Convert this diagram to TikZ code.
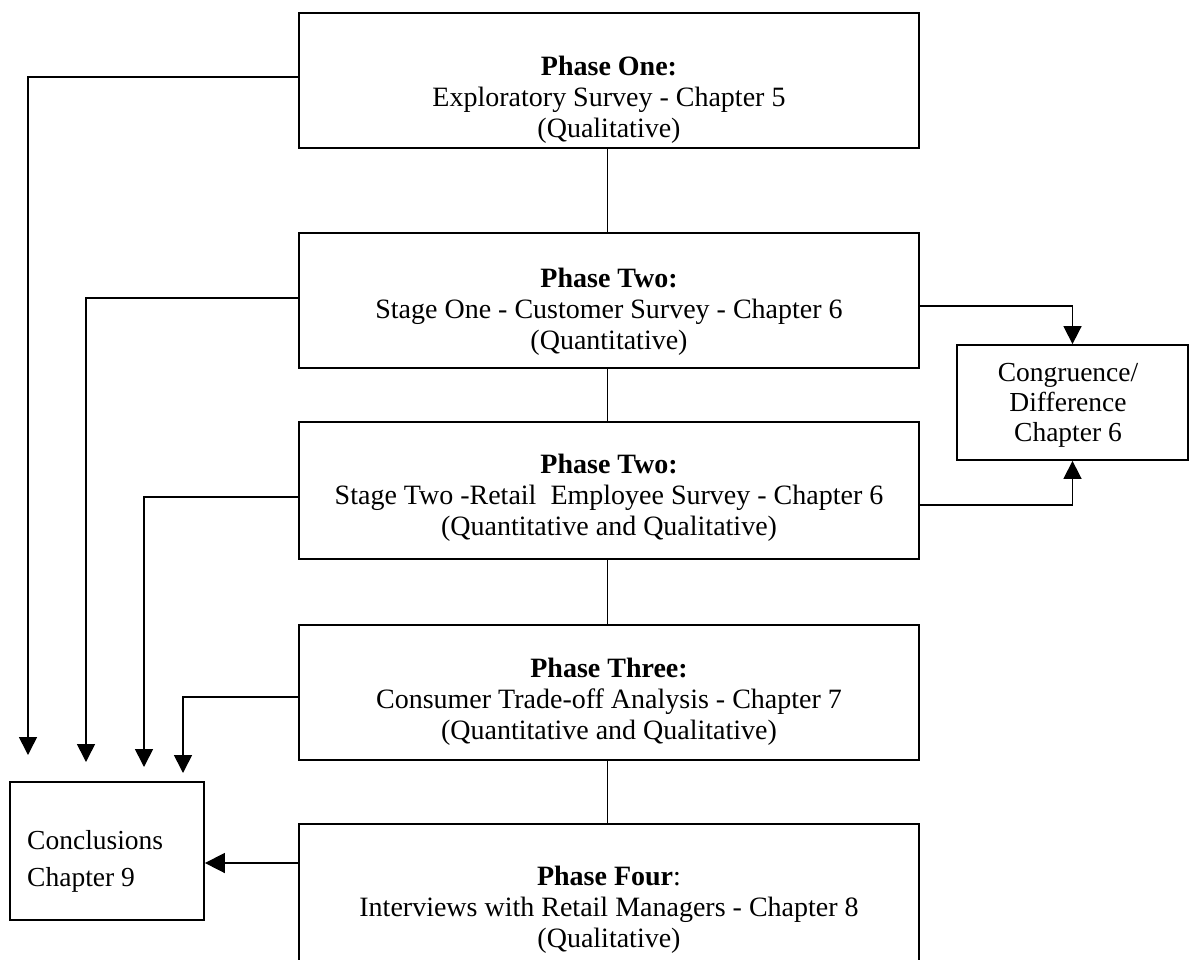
\documentclass[tikz,border=0pt]{standalone}
\usepackage{fontspec}
\setmainfont{Liberation Serif}
\usetikzlibrary{arrows.meta}
\begin{document}
\begin{tikzpicture}[x=1pt,y=-1pt,
  box/.style={draw,line width=1.8pt,rectangle,inner sep=0pt},
  phasebox/.style={box,minimum width=620pt},
  body/.style={align=center,inner sep=0pt,font=\fontsize{28pt}{31pt}\selectfont},
  conn/.style={line width=1.6pt,-{Triangle[width=18pt,length=18pt]}},
  link/.style={line width=1pt}]
\clip (0,0) rectangle (1191,959);

% phase boxes, stacked in the middle column
\node[phasebox,minimum height=135pt] (p1) at (609,80.5) {};
\node[phasebox,minimum height=135pt] (p2) at (609,300.5) {};
\node[phasebox,minimum height=137pt] (p3) at (609,490.5) {};
\node[phasebox,minimum height=135pt] (p4) at (609,692.5) {};
\node[phasebox,minimum height=176pt] (p5) at (609,912) {};

% side boxes
\node[box,minimum width=231pt,minimum height=115pt] (cong) at (1072.5,402.5) {};
\node[box,minimum width=194pt,minimum height=138pt] (concl) at (107,851) {};

% box texts
\node[body] (t1) at (609,100) {\textbf{Phase One:}\\Exploratory Survey - Chapter 5\\(Qualitative)};
\node[body] (t2) at (609,312) {\textbf{Phase Two:}\\Stage One - Customer Survey - Chapter 6\\(Quantitative)};
\node[body] (t3) at (609,498) {\textbf{Phase Two:}\\Stage Two -Retail\ \ Employee Survey - Chapter 6\\(Quantitative and Qualitative)};
\node[body] (t4) at (609,702) {\textbf{Phase Three:}\\Consumer Trade-off Analysis - Chapter 7\\(Quantitative and Qualitative)};
\node[body] (t5) at (609,910) {\textbf{Phase Four}:\\Interviews with Retail Managers - Chapter 8\\(Qualitative)};
\node[body,font=\fontsize{27.5pt}{30pt}\selectfont] (tc) at (1068,405) {Congruence/\\Difference\\Chapter 6};
\node[body,align=left,anchor=west,font=\fontsize{27.5pt}{37pt}\selectfont] (tz) at (27,861) {Conclusions\\Chapter 9};

% links down the middle column
\draw[link] ([xshift=-2pt]p1.south) -- ([xshift=-2pt]p2.north);
\draw[link] ([xshift=-2pt]p2.south) -- ([xshift=-2pt]p3.north);
\draw[link] ([xshift=-2pt]p3.south) -- ([xshift=-2pt]p4.north);
\draw[link] ([xshift=-2pt]p4.south) -- ([xshift=-2pt]p5.north);

% arrow ends above the conclusions box
\coordinate (a1) at (28,755);
\coordinate (a2) at (86,762);
\coordinate (a3) at (144,767);
\coordinate (a4) at (183,773);

\draw[conn] ([yshift=3.5pt]p1.west) -| (a1);
\draw[conn] ([yshift=2.5pt]p2.west) -| (a2);
\draw[conn] ([yshift=-6.5pt]p3.west) -| (a3);
\draw[conn] ([yshift=-4.5pt]p4.west) -| (a4);
\draw[line width=1.6pt,-{Triangle[width=20pt,length=20pt]}] ([yshift=49pt]p5.west) -- ([yshift=-12pt]concl.east);

% arrows into the congruence box
\draw[conn] ([yshift=-5.5pt]p2.east) -| (cong.north);
\draw[conn] ([yshift=-14.5pt]p3.east) -| (cong.south);
\end{tikzpicture}
\end{document}
